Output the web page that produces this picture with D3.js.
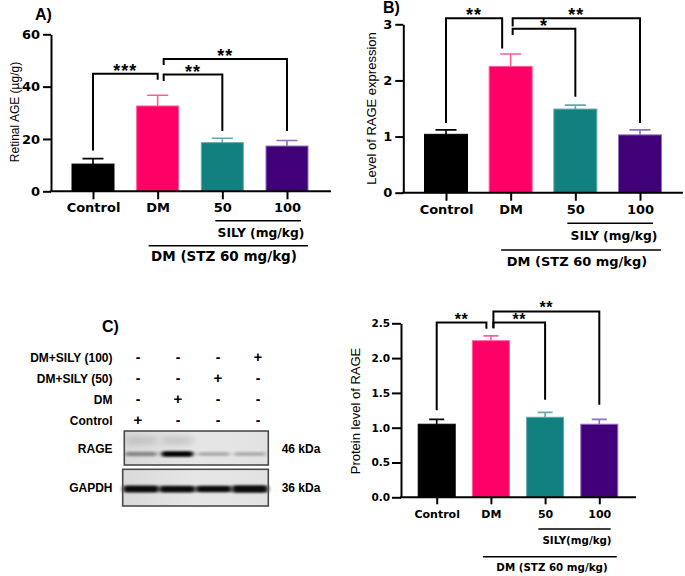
<!DOCTYPE html>
<html>
<head>
<meta charset="utf-8">
<script src="https://cdn.jsdelivr.net/npm/d3@7"></script>
<style>
  html, body { margin: 0; padding: 0; background: #ffffff; }
  svg { display: block; }
</style>
</head>
<body>
<svg id="chart" width="685" height="576"></svg>
<script>
// ---------------- DATA ----------------
const categories = ["Control", "DM", "50", "100"];
const barColors = ["#000000", "#ff0066", "#138080", "#400078"];
const errColors = ["#000000", "#ff5c9a", "#64aaaa", "#8e70c2"];

// Panel A: Retinal AGE (µg/g)
const ageMean = [10.4, 32.6, 18.6, 17.3];
const ageErr  = [2.1, 4.1, 1.7, 2.1];
const ageTicks = [0, 20, 40, 60];

// Panel B: Level of RAGE expression
const rageExprMean = [1.04, 2.25, 1.49, 1.03];
const rageExprErr  = [0.08, 0.22, 0.07, 0.09];
const rageExprTicks = [0, 1, 2, 3];

// Panel D: Protein level of RAGE
const rageProtMean = [1.05, 2.25, 1.15, 1.05];
const rageProtErr  = [0.07, 0.07, 0.07, 0.07];
const rageProtTicks = [0, 0.5, 1.0, 1.5, 2.0, 2.5];

// Significance brackets: [from, to, top value, from-end value, to-end value, label]
const ageBrackets = [
  ["Control", "DM", 44.9, 15.6, 42.6, "***"],
  ["DM", "50", 44.6, 42.2, 23.0, "**"],
  ["DM", "100", 50.6, 48.3, 23.0, "**"]
];
const rageExprBrackets = [
  ["Control", "DM", 3.11, 1.24, 2.57, "**"],
  ["DM", "50", 2.92, 2.81, 1.71, "*"],
  ["DM", "100", 3.11, 2.96, 1.24, "**"]
];
const rageProtBrackets = [
  ["Control", "DM", 2.51, 1.25, 2.42, "**"],
  ["DM", "50", 2.51, 2.43, 1.40, "**"],
  ["DM", "100", 2.67, 2.43, 1.33, "**"]
];

// Western blot (panel C)
const blotRows = ["DM+SILY (100)", "DM+SILY (50)", "DM", "Control"];
const blotSigns = [
  ["-", "-", "-", "+"],
  ["-", "-", "+", "-"],
  ["-", "+", "-", "-"],
  ["+", "-", "-", "-"]
];
const blotProteins = ["RAGE", "GAPDH"];
const blotSizes = ["46 kDa", "36 kDa"];
const rageBand  = [0.55, 1.0, 0.42, 0.40];
const gapdhBand = [0.95, 0.90, 0.85, 1.0];

// ---------------- DRAW ----------------
const svg = d3.select("#chart");
svg.append("rect").attr("width", 685).attr("height", 576).attr("fill", "#fff");

const BOLD = "'DejaVu Sans', sans-serif";
const ARIAL = "'Liberation Sans', Arial, sans-serif";

function drawPanel(cfg) {
  const g = svg.append("g");
  const x = d3.scalePoint().domain(categories).range(cfg.xRange);
  const y = d3.scaleLinear().domain(cfg.domain).range(cfg.yRange);

  // bars
  const data = categories.map((c, i) => ({c, i, m: cfg.mean[i], e: cfg.err[i]}));
  g.selectAll("rect.bar").data(data).enter().append("rect")
    .attr("x", d => x(d.c) - cfg.barW / 2)
    .attr("y", d => y(d.m))
    .attr("width", cfg.barW)
    .attr("height", d => y(0) - y(d.m))
    .attr("fill", d => barColors[d.i])
    .attr("stroke", d => errColors[d.i])
    .attr("stroke-width", 1);
  // error bars (upper)
  g.selectAll("path.err").data(data).enter().append("path")
    .attr("d", d => `M${x(d.c)},${y(d.m)}V${y(d.m + d.e)}M${x(d.c) - cfg.capW / 2},${y(d.m + d.e)}H${x(d.c) + cfg.capW / 2}`)
    .attr("stroke", d => errColors[d.i])
    .attr("stroke-width", 1.6)
    .attr("fill", "none");

  // y axis
  const ya = g.append("g").attr("transform", `translate(${cfg.yAxisX},0)`)
    .call(d3.axisLeft(y).tickValues(cfg.ticks).tickFormat(cfg.fmt).tickSize(cfg.ytick).tickSizeOuter(0).tickPadding(cfg.ypad));
  ya.select(".domain").attr("stroke-width", 2);
  ya.selectAll(".tick line").attr("stroke-width", 2);
  ya.selectAll("text").attr("font-family", BOLD).attr("font-weight", "bold").attr("font-size", cfg.yFont).attr("fill", "#000");

  // x axis
  const xa = g.append("g").attr("transform", `translate(0,${y(0)})`)
    .call(d3.axisBottom(x).tickSize(cfg.xtick).tickSizeOuter(0).tickPadding(cfg.xpad));
  xa.select(".domain").attr("d", `M${cfg.yAxisX - 1},0H${cfg.xEnd}`).attr("stroke-width", 2);
  xa.selectAll(".tick line").attr("stroke-width", 2);
  xa.selectAll("text").attr("font-family", BOLD).attr("font-weight", "bold").attr("font-size", cfg.xFont).attr("fill", "#000");

  // y label
  g.append("text")
    .attr("transform", `translate(${cfg.ylabX},${cfg.ylabY}) rotate(-90)`)
    .attr("text-anchor", "middle")
    .attr("font-family", ARIAL).attr("font-size", cfg.ylabFont)
    .text(cfg.ylabel);

  // panel letter
  if (cfg.letter) {
    g.append("text").attr("x", cfg.letterX).attr("y", cfg.letterY)
      .attr("font-family", ARIAL).attr("font-weight", "bold").attr("font-size", 16)
      .text(cfg.letter);
  }

  // brackets
  cfg.brackets.forEach((b, k) => {
    let xa0 = x(b[0]), xb0 = x(b[1]);
    if (b[0] === "DM") xa0 += cfg.dmShift;
    if (b[1] === "DM") xb0 += cfg.firstShift;
    const yt = y(b[2]);
    g.append("path")
      .attr("d", `M${xa0},${y(b[3])}V${yt}H${xb0}V${y(b[4])}`)
      .attr("fill", "none").attr("stroke", "#000").attr("stroke-width", 2);
    g.append("text")
      .attr("x", (xa0 + xb0) / 2).attr("y", yt + cfg.starDy)
      .attr("text-anchor", "middle")
      .attr("font-family", ARIAL).attr("font-weight", "bold")
      .attr("font-size", cfg.starFont).attr("letter-spacing", cfg.starLs)
      .text(b[5]);
  });

  // group lines below axis
  const l1a = x("50") - cfg.g1pad[0], l1b = x("100") + cfg.g1pad[1];
  g.append("line").attr("x1", l1a).attr("x2", l1b).attr("y1", cfg.g1y).attr("y2", cfg.g1y)
    .attr("stroke", "#000").attr("stroke-width", 1.5);
  g.append("text").attr("x", cfg.g1tx).attr("y", cfg.g1y + cfg.g1dy).attr("text-anchor", "middle")
    .attr("font-family", BOLD).attr("font-weight", "bold").attr("font-size", cfg.g1font).text(cfg.g1text);
  const l2a = x("DM") - cfg.g2pad[0], l2b = x("100") + cfg.g2pad[1];
  g.append("line").attr("x1", l2a).attr("x2", l2b).attr("y1", cfg.g2y).attr("y2", cfg.g2y)
    .attr("stroke", "#000").attr("stroke-width", 1.5);
  g.append("text").attr("x", cfg.g2tx).attr("y", cfg.g2y + cfg.g2dy).attr("text-anchor", "middle")
    .attr("font-family", BOLD).attr("font-weight", "bold").attr("font-size", cfg.g2font).text("DM (STZ 60 mg/kg)");
}

// Panel A
drawPanel({
  mean: ageMean, err: ageErr, ticks: ageTicks, fmt: d3.format("d"), domain: [0, 60],
  xRange: [93, 287], yRange: [191.3, 34.3], yAxisX: 51, xEnd: 331, barW: 42, capW: 21,
  ytick: 8, ypad: 3, xtick: 8, xpad: 3, yFont: 13, xFont: 13,
  ylabel: "Retinal AGE (µg/g)", ylabX: 19, ylabY: 112, ylabFont: 12,
  letter: "A)", letterX: 35, letterY: 20,
  brackets: ageBrackets, dmShift: 6, firstShift: 0, starDy: 3, starFont: 18, starLs: 1,
  g1pad: [7, 14], g1y: 220.7, g1dy: 16, g1tx: 261, g1font: 12.3, g1text: "SILY (mg/kg)",
  g2pad: [9, 21], g2y: 245.7, g2dy: 15, g2tx: 224, g2font: 13.5
});

// Panel B
drawPanel({
  mean: rageExprMean, err: rageExprErr, ticks: rageExprTicks, fmt: d3.format("d"), domain: [0, 3],
  xRange: [446, 640], yRange: [192.7, 24.3], yAxisX: 403.3, xEnd: 683, barW: 43, capW: 21,
  ytick: 8, ypad: 3, xtick: 8, xpad: 4.5, yFont: 13, xFont: 13,
  ylabel: "Level of RAGE expression", ylabX: 376, ylabY: 108.5, ylabFont: 13,
  letter: "B)", letterX: 383, letterY: 13,
  brackets: rageExprBrackets, dmShift: 2, firstShift: -8.5, starDy: 3, starFont: 18, starLs: 1,
  g1pad: [8, 13], g1y: 223.3, g1dy: 16.5, g1tx: 614, g1font: 12.3, g1text: "SILY (mg/kg)",
  g2pad: [9.5, 21], g2y: 250, g2dy: 16, g2tx: 577, g2font: 13
});

// Panel D
drawPanel({
  mean: rageProtMean, err: rageProtErr, ticks: rageProtTicks, fmt: d3.format(".1f"), domain: [0, 2.5],
  xRange: [436.7, 599.3], yRange: [497.3, 323.3], yAxisX: 401, xEnd: 636, barW: 37, capW: 15,
  ytick: 9, ypad: 2, xtick: 7, xpad: 5.5, yFont: 10.5, xFont: 11,
  ylabel: "Protein level of RAGE", ylabX: 359.5, ylabY: 411, ylabFont: 13,
  letter: null,
  brackets: rageProtBrackets, dmShift: 2.5, firstShift: -4.5, starDy: 2, starFont: 16, starLs: 0.5,
  g1pad: [6.7, 11.4], g1y: 529, g1dy: 15, g1tx: 577, g1font: 10.3, g1text: "SILY(mg/kg)",
  g2pad: [8, 17.4], g2y: 556.7, g2dy: 14, g2tx: 552, g2font: 10.3
});

// ---------------- Panel C: western blot ----------------
const C = svg.append("g");
C.append("text").attr("x", 102).attr("y", 332).attr("font-family", ARIAL)
  .attr("font-weight", "bold").attr("font-size", 16).text("C)");

const rowY = d3.scalePoint().domain(blotRows).range([357, 420]);
const signX = d3.scalePoint().domain([0, 1, 2, 3]).range([138, 258]);
C.selectAll("text.rowlab").data(blotRows).enter().append("text")
  .attr("x", 112.5).attr("y", d => rowY(d) + 4.5)
  .attr("text-anchor", "end").attr("font-family", ARIAL).attr("font-weight", "bold").attr("font-size", 12)
  .text(d => d);
blotRows.forEach((r, ri) => {
  C.selectAll(null).data(blotSigns[ri]).enter().append("text")
    .attr("x", (d, i) => signX(i)).attr("y", d => rowY(r) + (d === "+" ? 5 : 4.5))
    .attr("text-anchor", "middle").attr("font-family", ARIAL).attr("font-weight", "bold")
    .attr("font-size", d => d === "+" ? 15 : 14)
    .text(d => d);
});

const defs = svg.append("defs");
defs.append("filter").attr("id", "blur2").attr("x", "-30%").attr("y", "-100%").attr("width", "160%").attr("height", "300%")
  .append("feGaussianBlur").attr("stdDeviation", "2.2 1.3");
defs.append("filter").attr("id", "blur4").attr("x", "-30%").attr("y", "-100%").attr("width", "160%").attr("height", "300%")
  .append("feGaussianBlur").attr("stdDeviation", "4 2.5");
const grad = defs.append("linearGradient").attr("id", "blotbg").attr("x1", 0).attr("x2", 1);
grad.append("stop").attr("offset", "0%").attr("stop-color", "#d9d9d9");
grad.append("stop").attr("offset", "50%").attr("stop-color", "#e6e6e6");
grad.append("stop").attr("offset", "100%").attr("stop-color", "#e2e2e2");

const laneX = d3.scalePoint().domain([0, 1, 2, 3]).range([141, 250]);
const boxes = [
  {x0: 124.3, x1: 268.3, y0: 431, y1: 465, bandY: 454, bands: rageBand, h: 5.5},
  {x0: 122.7, x1: 268.3, y0: 469.3, y1: 506, bandY: 489, bands: gapdhBand, h: 7.5}
];
boxes.forEach((b, bi) => {
  C.append("rect").attr("x", b.x0).attr("y", b.y0).attr("width", b.x1 - b.x0).attr("height", b.y1 - b.y0)
    .attr("fill", "url(#blotbg)");
  if (bi === 0) {
    // faint upper smear in first two lanes
    [0, 1].forEach(i => {
      C.append("rect").attr("x", laneX(i) - 15).attr("y", 436).attr("width", 30).attr("height", 9)
        .attr("fill", "#9a9a9a").attr("opacity", 0.35).attr("filter", "url(#blur4)");
    });
  }
  C.selectAll(null).data(b.bands).enter().append("rect")
    .attr("x", (d, i) => laneX(i) - 16 - (bi === 1 ? 2 : 0))
    .attr("width", bi === 1 ? 36 : 32)
    .attr("y", (d) => b.bandY - b.h * (bi === 0 ? (0.5 + d * 0.5) : d) / 2)
    .attr("height", d => b.h * (bi === 0 ? (0.5 + d * 0.5) : d))
    .attr("rx", 3)
    .attr("fill", "#050505")
    .attr("opacity", d => bi === 0 ? Math.min(1, d * d * 1.1 + 0.05) : 0.95)
    .attr("filter", "url(#blur2)");
  C.append("rect").attr("x", b.x0).attr("y", b.y0).attr("width", b.x1 - b.x0).attr("height", b.y1 - b.y0)
    .attr("fill", "none").attr("stroke", "#4a4a4a").attr("stroke-width", 1.6);
  C.append("text").attr("x", 112.5).attr("y", (b.y0 + b.y1) / 2 + 4.5).attr("text-anchor", "end")
    .attr("font-family", ARIAL).attr("font-weight", "bold").attr("font-size", 12).text(blotProteins[bi]);
  C.append("text").attr("x", 281.7).attr("y", (b.y0 + b.y1) / 2 + 4.5)
    .attr("font-family", ARIAL).attr("font-weight", "bold").attr("font-size", 12).text(blotSizes[bi]);
});
</script>
</body>
</html>
